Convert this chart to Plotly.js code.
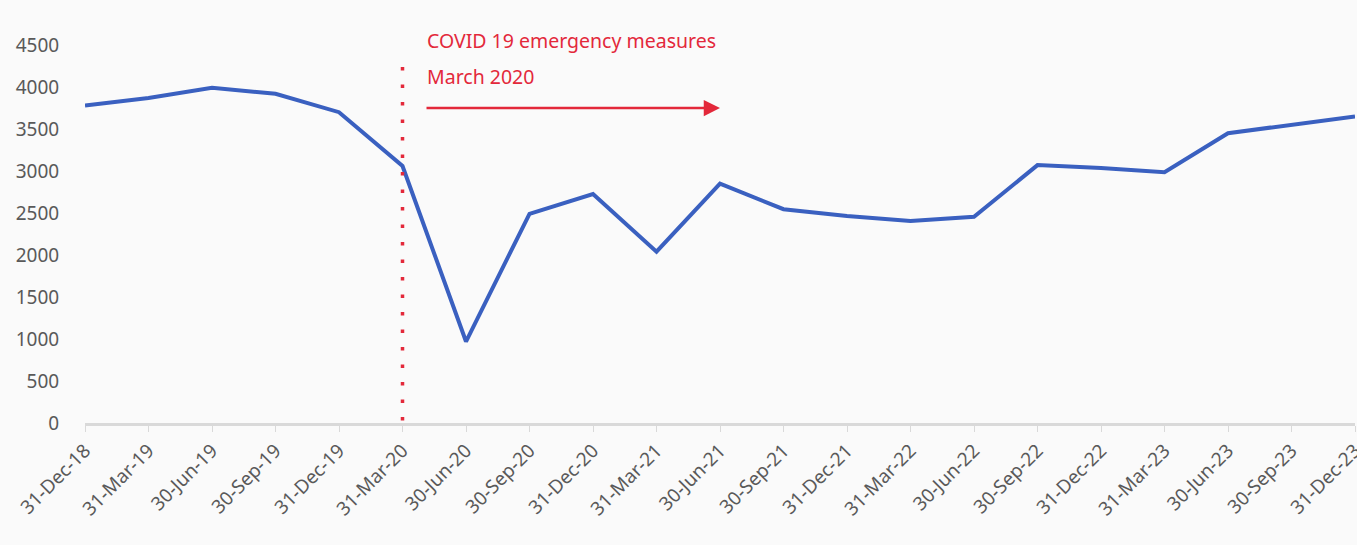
<!DOCTYPE html>
<html>
<head>
<meta charset="utf-8">
<script src="https://cdn.plot.ly/plotly-3.0.1.min.js"></script>
<style>
  html, body { margin: 0; padding: 0; background: #fafafa; }
  #chart { width: 1357px; height: 545px; }
</style>
</head>
<body>
<div id="chart"></div>
<script>
const categories = [
  "31-Dec-18", "31-Mar-19", "30-Jun-19", "30-Sep-19", "31-Dec-19",
  "31-Mar-20", "30-Jun-20", "30-Sep-20", "31-Dec-20", "31-Mar-21",
  "30-Jun-21", "30-Sep-21", "31-Dec-21", "31-Mar-22", "30-Jun-22",
  "30-Sep-22", "31-Dec-22", "31-Mar-23", "30-Jun-23", "30-Sep-23",
  "31-Dec-23"
];
const values = [
  3780, 3870, 3990, 3920, 3700,
  3060, 970, 2490, 2725, 2040,
  2850, 2545, 2465, 2405, 2455,
  3070, 3035, 2985, 3450, 3555,
  3650
];
const yTicks = [0, 500, 1000, 1500, 2000, 2500, 3000, 3500, 4000, 4500];
const eventCategory = "31-Mar-20";
const arrowEndCategory = "30-Jun-21";
const eventText1 = "COVID 19 emergency measures";
const eventText2 = "March 2020";

const red = "#e3283a";
const gray = "#595959";

const trace = {
  x: categories,
  y: values,
  type: "scatter",
  mode: "lines",
  line: { color: "#3a60c0", width: 4 },
  hoverinfo: "x+y"
};

const layout = {
  width: 1357,
  height: 545,
  margin: { l: 85, r: 2, t: 45, b: 122 },
  paper_bgcolor: "#fafafa",
  plot_bgcolor: "#fafafa",
  showlegend: false,
  font: { family: "Noto Sans, sans-serif", color: gray },
  xaxis: {
    type: "category",
    range: [0, categories.length - 1],
    tickangle: -45,
    tickfont: { size: 19, color: gray },
    showgrid: false,
    zeroline: false,
    showline: true,
    linecolor: "#d9d9d9",
    linewidth: 3,
    ticks: "outside",
    ticklen: 6,
    tickcolor: "#d9d9d9",
    tickwidth: 1
  },
  yaxis: {
    range: [0, 4500],
    tickvals: yTicks,
    ticktext: yTicks.map(String),
    tickfont: { size: 19, color: gray },
    showgrid: false,
    zeroline: false,
    showline: false,
    ticks: "outside",
    ticklen: 21,
    tickcolor: "rgba(0,0,0,0)"
  },
  shapes: [
    {
      type: "line",
      xref: "x", yref: "y",
      x0: eventCategory, x1: eventCategory,
      y0: 30, y1: 4370,
      line: { color: red, width: 3.5, dash: "3.5px,14px" }
    }
  ],
  annotations: [
    {
      xref: "x", yref: "paper",
      x: eventCategory, y: 1.013,
      xanchor: "left", yanchor: "middle",
      xshift: 22,
      text: eventText1,
      showarrow: false,
      font: { size: 19.5, color: red }
    },
    {
      xref: "x", yref: "y",
      x: eventCategory, y: 4130,
      xanchor: "left", yanchor: "middle",
      xshift: 22,
      text: eventText2,
      showarrow: false,
      font: { size: 19.5, color: red }
    },
    {
      xref: "x", yref: "y",
      x: arrowEndCategory, y: 3750,
      ax: -295, ay: 0,
      text: "",
      showarrow: true,
      arrowhead: 2,
      arrowsize: 1.3,
      arrowwidth: 2.5,
      arrowcolor: red
    }
  ]
};

Plotly.newPlot("chart", [trace], layout, { displayModeBar: false, staticPlot: true });
</script>
</body>
</html>
